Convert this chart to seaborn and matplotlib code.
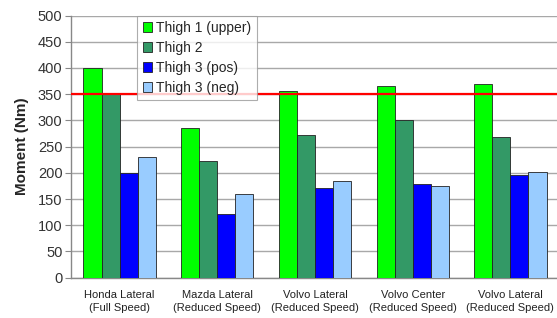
import pandas as pd
import matplotlib.pyplot as plt
import seaborn as sns

# Chart data
categories = ['Honda Lateral', 'Mazda Lateral', 'Volvo Lateral', 'Volvo Center', 'Volvo Lateral 2']
tick_labels = ['Honda Lateral\n(Full Speed)', 'Mazda Lateral\n(Reduced Speed)',
               'Volvo Lateral\n(Reduced Speed)', 'Volvo Center\n(Reduced Speed)',
               'Volvo Lateral\n(Reduced Speed)']
series = ['Thigh 1 (upper)', 'Thigh 2', 'Thigh 3 (pos)', 'Thigh 3 (neg)']
thigh1_upper = [400, 286, 357, 366, 370]
thigh2 = [352, 222, 272, 300, 269]
thigh3_pos = [200, 121, 171, 178, 195]
thigh3_neg = [231, 160, 185, 175, 202]
limit_value = 350

colors = ['#00ff00', '#339966', '#0000ff', '#99ccff']

# Long format for seaborn
rows = []
for name, vals in zip(series, [thigh1_upper, thigh2, thigh3_pos, thigh3_neg]):
    for cat, v in zip(categories, vals):
        rows.append({'Case': cat, 'Series': name, 'Moment': v})
df = pd.DataFrame(rows)

sns.set_style('white')
plt.rcParams['font.family'] = ['Liberation Sans', 'DejaVu Sans']

fig = plt.figure(figsize=(5.57, 3.18), dpi=100)
ax = fig.add_axes([0.127, 0.127, 0.877, 0.824])

sns.barplot(data=df, x='Case', y='Moment', hue='Series', order=categories,
            hue_order=series, palette=colors, width=0.74, saturation=1,
            edgecolor='#222222', linewidth=0.6, ax=ax, zorder=3)

ax.axhline(limit_value, color='#ff0000', lw=1.6, zorder=4)

ax.set_ylim(0, 500)
ax.set_xlim(-0.5, len(categories) - 0.5)
ax.set_yticks(range(0, 501, 50))
ax.yaxis.grid(True, color='#a8a8a8', lw=1.0, zorder=0)
ax.set_axisbelow(True)

ax.set_xticks(range(len(categories)))
ax.set_xticklabels(tick_labels, fontsize=8, color='#222222', linespacing=1.35)
ax.set_xticks([i + 0.5 for i in range(-1, len(categories))], minor=True)
ax.tick_params(axis='x', which='major', length=0, pad=9)
ax.tick_params(axis='x', which='minor', length=3, color='#888888', direction='out')
ax.tick_params(axis='y', labelsize=10.5, length=4, color='#888888', direction='out',
               labelcolor='#333333', left=True, pad=2)

for s in ['top', 'right']:
    ax.spines[s].set_visible(False)
for s in ['left', 'bottom']:
    ax.spines[s].set_color('#888888')
    ax.spines[s].set_linewidth(1.0)

ax.set_xlabel('')
ax.set_ylabel('Moment (Nm)', fontsize=11, fontweight='bold', labelpad=6)

leg = ax.legend(loc='upper left', bbox_to_anchor=(0.136, 1.0), borderaxespad=0,
                fontsize=10, frameon=True, fancybox=False, handlelength=0.7,
                handleheight=0.7, handletextpad=0.25, labelspacing=0.42,
                borderpad=0.4)
leg.get_frame().set_edgecolor('#999999')
leg.get_frame().set_linewidth(0.8)
leg.set_zorder(5)

fig.savefig('out.png', dpi=100)
